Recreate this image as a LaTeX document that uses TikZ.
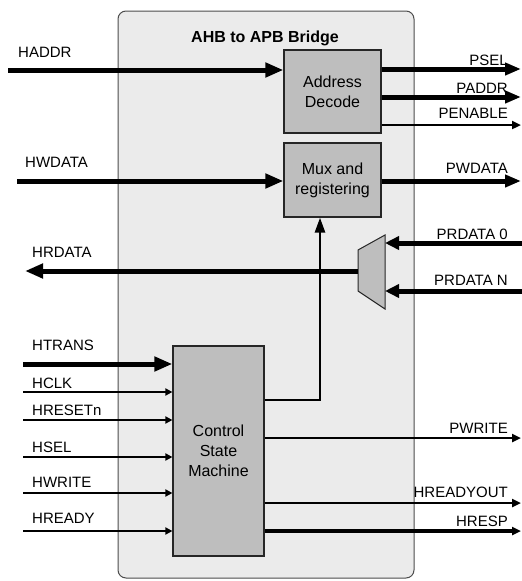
\documentclass[tikz,border=0pt]{standalone}
\usepackage{fontspec}
\setmainfont{Liberation Sans}
\usepackage{tikz}
\usetikzlibrary{positioning, arrows.meta}
\definecolor{bridgegray}{HTML}{EBEBEB}
\definecolor{blockgray}{HTML}{BEBEBE}

\begin{document}
\begin{tikzpicture}[x=1pt, y=-1pt,
    lbl/.style={font=\fontsize{15}{17}\selectfont, inner sep=0pt},
    blk/.style={draw=black!85, fill=blockgray, line width=1.2pt, align=center,
        font=\fontsize{16}{20}\selectfont},
    bus/.style={line width=5pt, -{Triangle[length=18pt, width=14pt]}},
    outbus/.style={line width=5pt, -{Triangle[length=16pt, width=12pt]}},
    sig/.style={line width=2.8pt, -{Triangle[length=9pt, width=8pt]}},
    ctlin/.style={line width=2.6pt, -{Triangle[length=7pt, width=7pt]}}]

\useasboundingbox (0,0) rectangle (522,581);

% Bridge outline
\node[draw=black!70, fill=bridgegray, line width=1pt, rounded corners=8pt,
    minimum width=296pt, minimum height=567pt] (bridge) at (266,294.5) {};
\node[font=\bfseries\fontsize{16}{19}\selectfont] (title) at (265,38) {AHB to APB Bridge};

% Blocks
\node[blk, minimum width=97pt, minimum height=83pt] (dec) at (332.5,91.5) {Address\\Decode};
\node[blk, minimum width=97pt, minimum height=74pt] (mux) at (332.5,180) {Mux and\\registering};
\node[blk, minimum width=91pt, minimum height=210pt] (csm) at (218.5,451) {Control\\State\\Machine};

% Read data mux
\draw[draw=black!85, fill=blockgray, line width=1pt]
    (358,250) -- (385,235) -- (385,309) -- (358,291) -- cycle;
\coordinate (rmux-out) at (358,271);
\coordinate (rmux-0) at (385,243);
\coordinate (rmux-n) at (385,291);

% Control to mux
\coordinate (ctl) at (320,400);
\draw[line width=2.6pt, -{Triangle[length=15pt, width=10pt]}]
    (ctl -| csm.east) -| (mux.south -| ctl);

% AHB side
\coordinate (haddr) at (8,70);
\coordinate (hwdata) at (17,181);
\coordinate (hrdata) at (25,271);
\coordinate (htrans) at (23,364);
\draw[bus] (haddr) -- (haddr -| dec.west);
\draw[bus] (hwdata) -- (hwdata -| mux.west);
\draw[bus] (rmux-out) -- (hrdata);
\draw[bus] (htrans) -- (htrans -| csm.west);
\node[lbl, anchor=base west] (l-haddr) at (18,57) {HADDR};
\node[lbl, anchor=base west] (l-hwdata) at (25,167) {HWDATA};
\node[lbl, anchor=base west] (l-hrdata) at (32,257) {HRDATA};
\node[lbl, anchor=base west] (l-htrans) at (32,350) {HTRANS};

\foreach \nm/\yy/\by in {HCLK/392/388, HRESETn/420/415, HSEL/457/452,
    HWRITE/493/487, HREADY/531/523}{
    \coordinate (\nm) at (23,\yy);
    \draw[ctlin] (\nm) -- (\nm -| csm.west);
    \node[lbl, anchor=base west] (l-\nm) at (32,\by) {\nm};
}

% APB side
\foreach \nm/\yy/\by in {PSEL/69/65, PADDR/97/93}{
    \coordinate (\nm) at (521,\yy);
    \draw[outbus] (\nm -| dec.east) -- (\nm);
    \node[lbl, anchor=base east] (l-\nm) at (508,\by) {\nm};
}
\coordinate (penable) at (521,125);
\draw[sig] (penable -| dec.east) -- (penable);
\node[lbl, anchor=base east] (l-penable) at (508,118) {PENABLE};

\coordinate (pwdata) at (521,181);
\draw[outbus] (pwdata -| mux.east) -- (pwdata);
\node[lbl, anchor=base east] (l-pwdata) at (508,173) {PWDATA};

\coordinate (prdata0) at (522,243);
\coordinate (prdatan) at (522,291);
\draw[line width=5pt, -{Triangle[length=14pt, width=13pt]}] (prdata0) -- (rmux-0);
\draw[line width=5pt, -{Triangle[length=14pt, width=13pt]}] (prdatan) -- (rmux-n);
\node[lbl, anchor=base east] (l-prdata0) at (508,239) {PRDATA 0};
\node[lbl, anchor=base east] (l-prdatan) at (508,285) {PRDATA N};

\foreach \nm/\yy/\by in {PWRITE/438/433, HREADYOUT/503/497}{
    \coordinate (\nm) at (521,\yy);
    \draw[sig] (\nm -| csm.east) -- (\nm);
    \node[lbl, anchor=base east] (l-\nm) at (508,\by) {\nm};
}
\coordinate (hresp) at (521,531);
\draw[sig, line width=4pt] (hresp -| csm.east) -- (hresp);
\node[lbl, anchor=base east] (l-hresp) at (508,526) {HRESP};

\end{tikzpicture}
\end{document}
